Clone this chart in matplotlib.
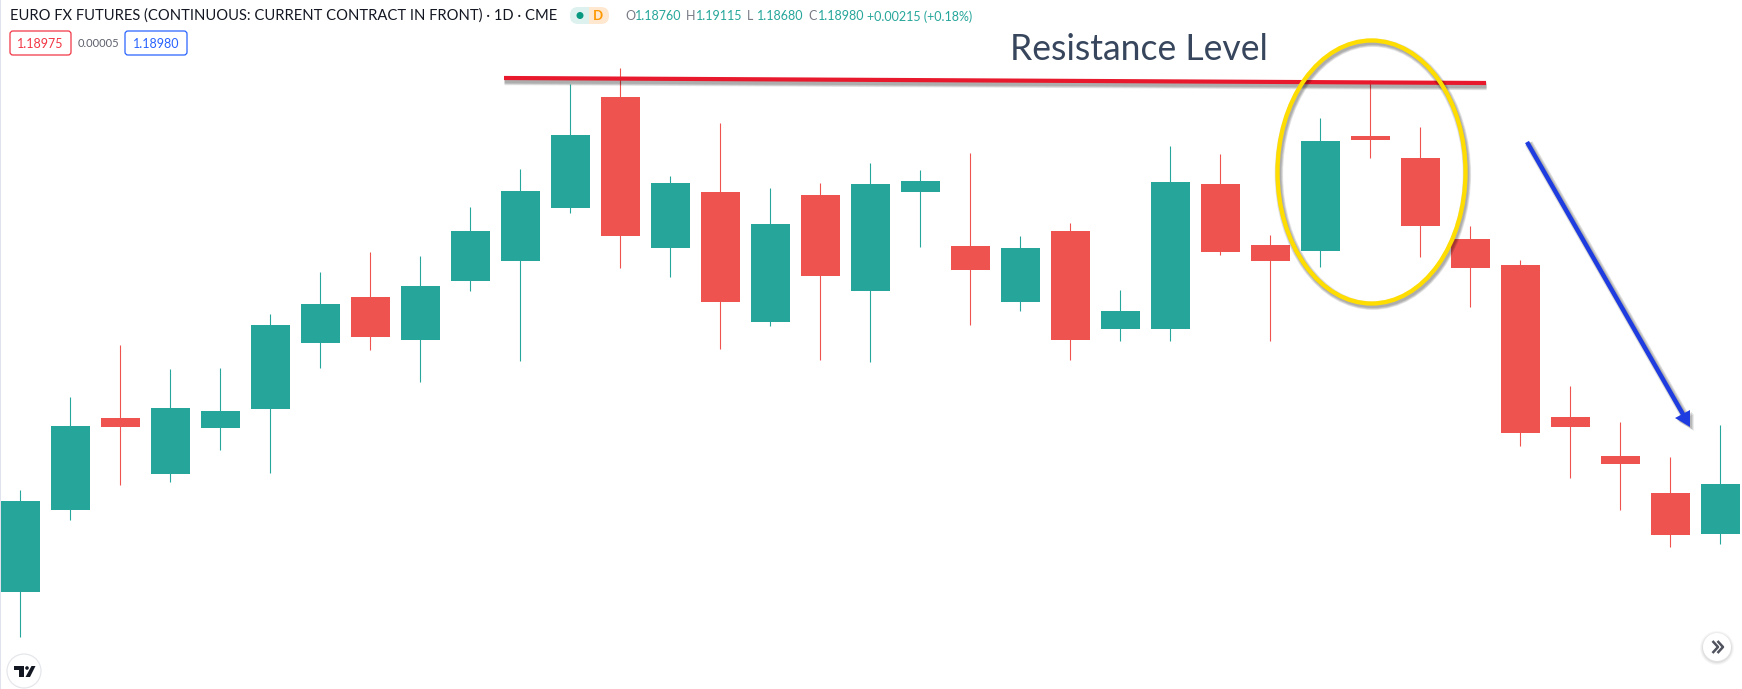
"""Euro FX futures daily candles with resistance level, TradingView style."""

import matplotlib.patheffects as pe
import matplotlib.pyplot as plt
import numpy as np
from matplotlib.patches import Circle, Ellipse, FancyBboxPatch, Polygon, Rectangle

W, H = 1742, 689
UP = "#26A69A"
DOWN = "#EF5350"

opens = [1.18440, 1.18850, 1.19310, 1.19030, 1.19260, 1.19355, 1.19685, 1.19915, 1.19700,
         1.19995, 1.20095, 1.20360, 1.20915, 1.20160, 1.20440, 1.19790, 1.20425, 1.19945,
         1.20440, 1.20170, 1.19890, 1.20245, 1.19755, 1.19755, 1.20480, 1.20175, 1.20145,
         1.20720, 1.20610, 1.20205, 1.20075, 1.19315, 1.19120, 1.18935, 1.18730]
highs = [1.18950, 1.19415, 1.19675, 1.19555, 1.19560, 1.19830, 1.20040, 1.20140, 1.20120,
         1.20365, 1.20555, 1.20980, 1.21060, 1.20520, 1.20785, 1.20460, 1.20485, 1.20585,
         1.20550, 1.20635, 1.20220, 1.20285, 1.19950, 1.20670, 1.20630, 1.20225, 1.20810,
         1.21000, 1.20765, 1.20270, 1.20100, 1.19470, 1.19290, 1.19115, 1.19275]
lows = [1.18215, 1.18800, 1.18975, 1.18990, 1.19150, 1.19035, 1.19560, 1.19650, 1.19490,
        1.19945, 1.19595, 1.20335, 1.20060, 1.20015, 1.19655, 1.19770, 1.19600, 1.19590,
        1.20165, 1.19775, 1.19845, 1.19600, 1.19695, 1.19695, 1.20125, 1.19695, 1.20065,
        1.20610, 1.20115, 1.19865, 1.19170, 1.19010, 1.18850, 1.18665, 1.18680]
closes = [1.18895, 1.19270, 1.19265, 1.19360, 1.19345, 1.19775, 1.19880, 1.19715, 1.19970,
          1.20245, 1.20445, 1.20725, 1.20220, 1.20485, 1.19890, 1.20280, 1.20020, 1.20480,
          1.20495, 1.20050, 1.20160, 1.19700, 1.19845, 1.20490, 1.20140, 1.20095, 1.20695,
          1.20700, 1.20270, 1.20060, 1.19235, 1.19265, 1.19080, 1.18725, 1.18980]

TITLE = "EURO FX FUTURES (CONTINUOUS: CURRENT CONTRACT IN FRONT) · 1D · CME"
OHLC = [("O", "1.18760", 625), ("H", "1.19115", 686), ("L", "1.18680", 747), ("C", "1.18980", 808)]
CHANGE = "+0.00215 (+0.18%)"


def soft_shadow(lw, dx=0.8, dy=-2.0):
    # stacked translucent strokes, gives something like the blurred drop shadow
    fx = [pe.SimpleLineShadow(offset=(dx, dy), shadow_color="black", alpha=0.09, linewidth=lw + k)
          for k in (3.0, 2.0, 1.0, 0.0)]
    return fx + [pe.Normal()]


fig = plt.figure(figsize=(W / 100, H / 100), dpi=100, facecolor="white")

# price chart, fills the whole canvas with no axes showing
ax = fig.add_axes([0, 0, 1, 1])
ax.set_xlim(-0.41, 34.43)
ax.set_ylim(1.17955, 1.21400)
ax.axis("off")

x = np.arange(len(opens))
o, h, l, c = map(np.array, (opens, highs, lows, closes))
colors = [UP if cc >= oo else DOWN for oo, cc in zip(o, c)]
# the small nudge stops the wick snapping one pixel right of the body centre
ax.vlines(x - 0.008, l, h, colors=colors, linewidth=0.8, zorder=2)
ax.bar(x, np.abs(c - o), bottom=np.minimum(o, c), width=0.78, color=colors, linewidth=0, zorder=3)

# overlay in pixel coordinates for the drawn annotations and the header
ov = fig.add_axes([0, 0, 1, 1], facecolor="none")
ov.set_xlim(0, W)
ov.set_ylim(H, 0)
ov.axis("off")

ov.add_patch(Rectangle((0, 0), 1.2, H, color="#E0E3EB", linewidth=0))

# resistance line, circle, arrow
ov.plot([504, 1486], [78, 83], color="#E8192C", lw=3.0, solid_capstyle="butt", zorder=5,
        path_effects=soft_shadow(3.0, 0.4, -2.2))
ov.add_patch(Ellipse((1371.5, 172), 188, 263, fill=False, edgecolor="#FFDD00", lw=3.1, zorder=6,
                     path_effects=soft_shadow(3.1, 1.0, -1.6)))
ov.plot([1527, 1684], [142, 416], color="#1E3CE0", lw=3.2, solid_capstyle="butt", zorder=6,
        path_effects=soft_shadow(3.2, 1.2, -1.0))
for k, a in ((4, 0.08), (3, 0.1), (2, 0.12)):
    ov.add_patch(Polygon([(1690 + k, 410 + k), (1675 + k, 418 + k), (1690 + k, 427 + k)],
                         color="black", alpha=a, lw=0, zorder=6))
ov.add_patch(Polygon([(1690, 410), (1675, 418), (1690, 427)], color="#1E3CE0", lw=0, zorder=7))

ov.text(1010, 60, "Resistance Level", fontsize=25.6, family="Lato", color="#37465C",
        ha="left", va="baseline", zorder=7)

# header
ov.text(10, 16, TITLE, fontsize=10.6, family="Lato", color="#131722", ha="left", va="center")
ov.add_patch(FancyBboxPatch((570, 7), 30, 17, boxstyle="round,pad=0,rounding_size=8",
                            fc="#DDF1EE", ec="none"))
ov.add_patch(FancyBboxPatch((585, 7), 24, 17, boxstyle="round,pad=0,rounding_size=8",
                            fc="#FFE8CF", ec="none"))
ov.add_patch(Rectangle((589, 7), 8, 17, color="#FFE8CF", lw=0))
ov.add_patch(Rectangle((580, 7), 9, 17, color="#DDF1EE", lw=0))
ov.add_patch(Circle((580, 15.5), 3.5, color="#089981", lw=0))
ov.text(598, 16, "D", fontsize=9.5, family="Lato", color="#FF9800", ha="center", va="center",
        fontweight="bold")

for label, val, xp in OHLC:
    ov.text(xp, 16.5, label, fontsize=9.0, family="Lato", color="#787B86", ha="left", va="center")
    ov.text(xp + 10, 16.5, val, fontsize=9.0, family="Lato", color=UP, ha="left", va="center")
ov.text(867, 16.5, CHANGE, fontsize=9.0, family="Lato", color=UP, ha="left", va="center")

ov.add_patch(FancyBboxPatch((10, 31), 61, 24, boxstyle="round,pad=0,rounding_size=3",
                            fc="white", ec="#F23645", lw=0.9))
ov.text(40.5, 43.5, "1.18975", fontsize=9.0, family="Lato", color="#F23645", ha="center", va="center")
ov.text(98, 43.5, "0.00005", fontsize=8.0, family="Lato", color="#5D606B", ha="center", va="center")
ov.add_patch(FancyBboxPatch((125, 31), 62, 24, boxstyle="round,pad=0,rounding_size=3",
                            fc="white", ec="#2962FF", lw=0.9))
ov.text(156, 43.5, "1.18980", fontsize=9.0, family="Lato", color="#2962FF", ha="center", va="center")

# TradingView badge
ov.add_patch(Circle((24, 671), 17, fc="white", ec="#E6E7EB", lw=0.9, zorder=4))
ov.add_patch(Polygon([(14, 666), (24, 666), (24, 677), (19, 677), (19, 669.5), (14, 669.5)],
                     color="#131722", lw=0, zorder=5))
ov.add_patch(Circle((27, 668), 1.8, color="#131722", lw=0, zorder=5))
ov.add_patch(Polygon([(31.5, 666), (35.5, 666), (30, 677), (25.5, 677)],
                     color="#131722", lw=0, zorder=5))

# scroll-to-latest button
for r, a in ((17, 0.03), (16, 0.04), (15, 0.05)):
    ov.add_patch(Circle((1717, 648), r, color="black", alpha=a, lw=0, zorder=4))
ov.add_patch(Circle((1717, 647), 14, color="white", lw=0, zorder=5))
for dx in (0, 5):
    ov.plot([1712.5 + dx, 1718 + dx, 1712.5 + dx], [641, 647, 653], color="#50535E", lw=1.8,
            solid_capstyle="butt", zorder=6)

fig.savefig("out.png", dpi=100)
